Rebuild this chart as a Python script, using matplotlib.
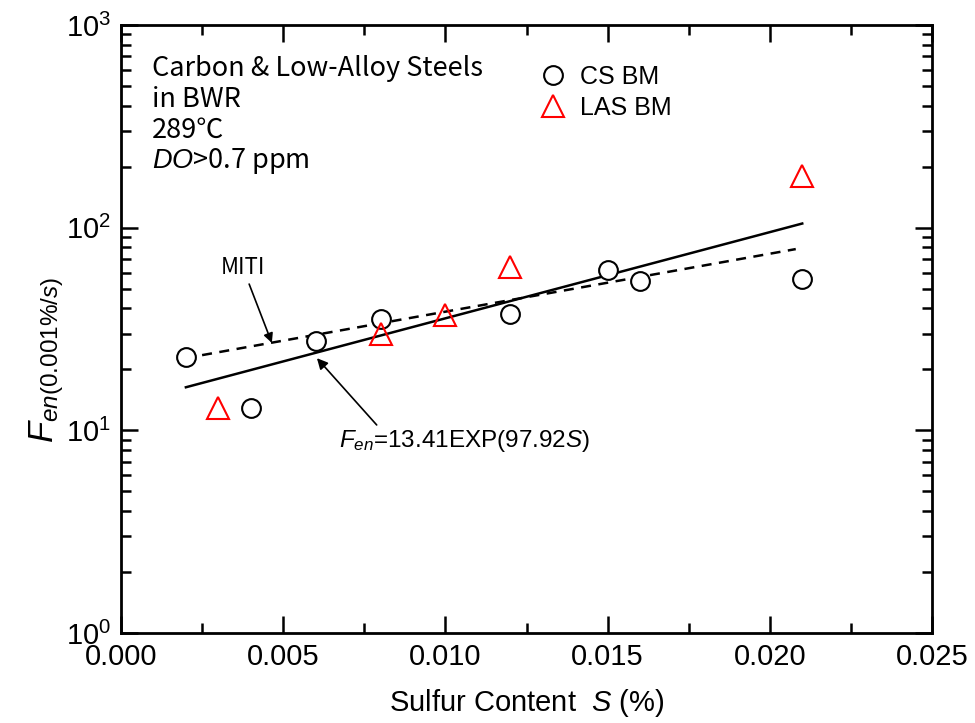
import numpy as np
import matplotlib
matplotlib.use("Agg")
import matplotlib.pyplot as plt
from matplotlib.ticker import MultipleLocator, LogLocator, NullFormatter, FormatStrFormatter

# ---- Data ----
cs_s = [0.002, 0.004, 0.006, 0.008, 0.012, 0.015, 0.016, 0.021]
cs_fen = [23.0, 12.9, 27.6, 35.4, 37.5, 61.8, 54.5, 55.8]

las_s = [0.003, 0.008, 0.010, 0.012, 0.021]
las_fen = [12.9, 29.9, 37.0, 63.9, 180.0]

# fit: Fen = 13.41 exp(97.92 S)
fit_a, fit_b = 13.41, 97.92
fit_range = [0.002, 0.021]

# MITI model line (end points)
miti_s = [0.0025, 0.0208]
miti_fen = [23.5, 78.4]

info_lines = ['Carbon & Low-Alloy Steels', 'in BWR', '289℃', '$DO$>0.7 ppm']

# ---- Fonts ----
plt.rcParams['font.family'] = ['Liberation Sans', 'DejaVu Sans']
plt.rcParams['mathtext.fontset'] = 'custom'
plt.rcParams['mathtext.rm'] = 'Liberation Sans'
plt.rcParams['mathtext.it'] = 'Liberation Sans:italic'
jp = ['Noto Sans CJK JP', 'DejaVu Sans']

fig = plt.figure(figsize=(9.75, 7.23), dpi=100)
ax = fig.add_axes([0.1241, 0.1245, 0.8318, 0.8409])

# ---- Lines ----
s_fit = np.linspace(fit_range[0], fit_range[1], 50)
ax.plot(s_fit, fit_a * np.exp(fit_b * s_fit), color='black', lw=1.8, zorder=2)
ax.plot(miti_s, miti_fen, color='black', lw=1.8, ls=(0, (4, 3)), zorder=2)

# ---- Markers ----
ax.plot(cs_s, cs_fen, 'o', ms=13.5, mfc='white', mec='black', mew=1.5,
        label='CS BM', zorder=3)
ax.plot(las_s, las_fen, '^', ms=16, mfc='none', mec='red', mew=1.5,
        label='LAS BM', zorder=4)

# ---- Axes ----
ax.set_xlim(0, 0.025)
ax.set_yscale('log')
ax.set_ylim(1, 1000)
ax.xaxis.set_major_locator(MultipleLocator(0.005))
ax.xaxis.set_minor_locator(MultipleLocator(0.0025))
ax.xaxis.set_major_formatter(FormatStrFormatter('%.3f'))
ax.yaxis.set_major_locator(LogLocator(base=10, numticks=10))
ax.yaxis.set_minor_locator(LogLocator(base=10, subs=np.arange(2, 10), numticks=10))
ax.yaxis.set_minor_formatter(NullFormatter())

ax.tick_params(which='both', direction='in', top=True, right=True, width=1.8,
               labelsize=21)
ax.tick_params(which='major', length=12, pad=7)
ax.tick_params(which='minor', length=7)
for sp in ax.spines.values():
    sp.set_linewidth(2)

ax.set_xlabel('Sulfur Content  $S$ (%)', fontsize=21, labelpad=12)
ax.set_ylabel('$F_{en(0.001\\%/s)}$', fontsize=25, labelpad=0)
ax.yaxis.label.set_y(0.45)

# ---- Legend ----
ax.legend(loc='upper left', bbox_to_anchor=(0.49, 0.972), frameon=False,
          handletextpad=0.55, labelspacing=0.28, handlelength=1.0,
          prop={'size': 18})

# ---- Text ----
for i, line in enumerate(info_lines):
    ax.text(0.038, 0.928 - i * 0.0505, line, transform=ax.transAxes,
            ha='left', va='center', fontsize=19.5, family=jp)

ax.annotate('MITI', xy=(0.00465, 27.0), xytext=(0.00375, 56),
            ha='center', va='bottom', fontsize=16, family=jp,
            arrowprops=dict(arrowstyle='-|>', color='black', lw=1.2,
                            mutation_scale=14, shrinkA=2, shrinkB=0))
ax.annotate('$F_{en}$=13.41EXP(97.92$S$)', xy=(0.00604, 22.7),
            xytext=(0.00672, 10.3), ha='left', va='top', fontsize=17.5,
            arrowprops=dict(arrowstyle='-|>', color='black', lw=1.2,
                            mutation_scale=16, shrinkA=0, shrinkB=0,
                            relpos=(0.16, 1.0)))

fig.savefig('out.png', dpi=100)
